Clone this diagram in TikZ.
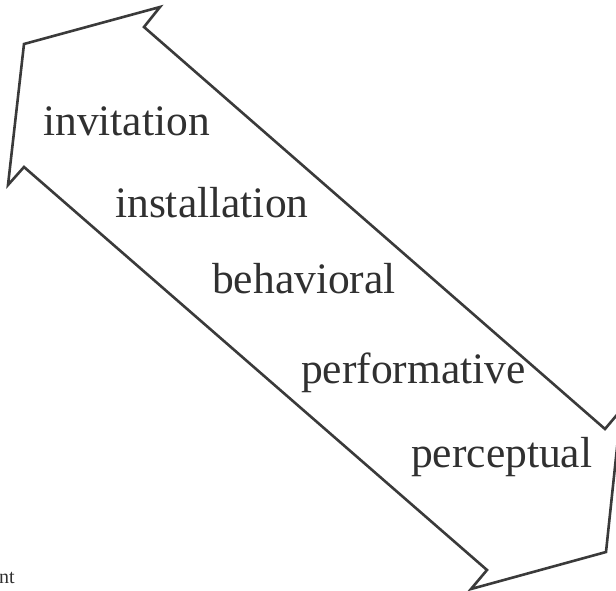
\documentclass[tikz,border=0pt]{standalone}
\usepackage{fontspec}
\setmainfont{Liberation Serif}
\definecolor{linegray}{HTML}{3A3A3A}
\definecolor{textgray}{HTML}{303030}
\begin{document}
\begin{tikzpicture}[x=1pt,y=-1pt,
  arrowline/.style={draw=linegray, line width=2.6pt, line join=miter},
  lbl/.style={anchor=base west, inner sep=0pt, text=textgray, font=\fontsize{43.5}{50}\selectfont},
  small/.style={anchor=base west, inner sep=0pt, text=textgray, font=\fontsize{20}{24}\selectfont}]
\useasboundingbox (0,0) rectangle (616,590);
\clip (0,0) rectangle (616,590);
\draw[arrowline] (160,7) -- (144,27) -- (605,429) -- (621,410) -- (606,552)
  -- (471,589) -- (487,570) -- (24,167) -- (8,185) -- (24,44) -- cycle;
\node[lbl] (invitation) at (43,135) {invitation};
\node[lbl] (installation) at (115,217) {installation};
\node[lbl] (behavioral) at (212,293) {behavioral};
\node[lbl] (performative) at (301,383) {performative};
\node[lbl] (perceptual) at (411,467) {perceptual};
\node[small] (nt) at (-1,583) {nt};
\end{tikzpicture}
\end{document}
